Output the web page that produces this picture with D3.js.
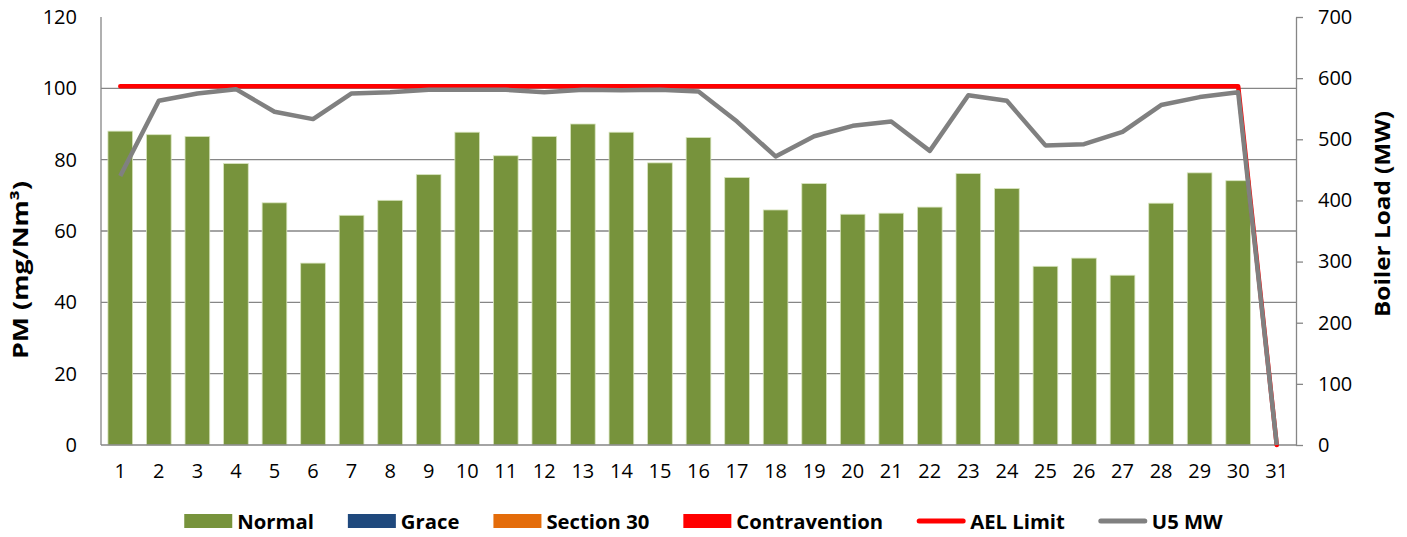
<!DOCTYPE html>
<html>
<head>
<meta charset="utf-8">
<script src="https://d3js.org/d3.v7.min.js"></script>
<style>
  body { margin: 0; background: #fff; }
  text { font-family: "Open Sans", sans-serif; fill: #000; }
</style>
</head>
<body>
<div id="chart"></div>
<script>
// days of the month
var days = [1, 2, 3, 4, 5, 6, 7, 8, 9, 10, 11, 12, 13, 14, 15, 16, 17, 18, 19, 20,
            21, 22, 23, 24, 25, 26, 27, 28, 29, 30, 31];
// PM (mg/Nm3) per status
var normal = [88, 87, 86.5, 78.9, 67.9, 51, 64.4, 68.6, 75.8, 87.7, 81.1, 86.5, 90, 87.7, 79.1,
              86.2, 75, 65.9, 73.3, 64.7, 65, 66.7, 76.1, 71.9, 50.1, 52.4, 47.6, 67.8, 76.3, 74.1, 0];
var grace = [0, 0, 0, 0, 0, 0, 0, 0, 0, 0, 0, 0, 0, 0, 0, 0, 0, 0, 0, 0, 0, 0, 0, 0, 0, 0, 0, 0, 0, 0, 0];
var section30 = [0, 0, 0, 0, 0, 0, 0, 0, 0, 0, 0, 0, 0, 0, 0, 0, 0, 0, 0, 0, 0, 0, 0, 0, 0, 0, 0, 0, 0, 0, 0];
var contravention = [0, 0, 0, 0, 0, 0, 0, 0, 0, 0, 0, 0, 0, 0, 0, 0, 0, 0, 0, 0, 0, 0, 0, 0, 0, 0, 0, 0, 0, 0, 0];
// emission limit (mg/Nm3)
var aelLimit = [100.6, 100.6, 100.6, 100.6, 100.6, 100.6, 100.6, 100.6, 100.6, 100.6, 100.6, 100.6, 100.6, 100.6, 100.6,
                100.6, 100.6, 100.6, 100.6, 100.6, 100.6, 100.6, 100.6, 100.6, 100.6, 100.6, 100.6, 100.6, 100.6, 100.6, 0];
// boiler load (MW)
var u5mw = [440, 563, 575, 582, 545, 533, 575, 577, 581, 581, 581, 577, 581, 580, 581,
            578, 529, 472, 505, 522, 529, 481, 572, 563, 490, 492, 512, 556, 569, 577, 0];
var leftTicks = [0, 20, 40, 60, 80, 100, 120];
var rightTicks = [0, 100, 200, 300, 400, 500, 600, 700];

var W = 1407, H = 537;
var plotLeft = 101, plotRight = 1296, plotTop = 17, plotBottom = 445;
var gridColor = '#868686';

var svg = d3.select('#chart').append('svg')
    .attr('width', W)
    .attr('height', H);

var x = d3.scaleBand().domain(days).range([plotLeft, plotRight]).paddingInner(0.36).paddingOuter(0.18);
var yL = d3.scaleLinear().domain([0, 120]).range([plotBottom, plotTop]);
var yR = d3.scaleLinear().domain([0, 700]).range([plotBottom, plotTop]);

// gridlines
svg.append('g').selectAll('line')
    .data(leftTicks.filter(function (t) { return t > 0 && t < 120; }))
    .join('line')
    .attr('x1', plotLeft).attr('x2', plotRight)
    .attr('y1', function (d) { return yL(d); })
    .attr('y2', function (d) { return yL(d); })
    .attr('stroke', gridColor)
    .attr('stroke-width', 1.3);

// stacked bars
var series = [
    { name: 'Normal', values: normal, color: '#77933C' },
    { name: 'Grace', values: grace, color: '#1F497D' },
    { name: 'Section 30', values: section30, color: '#E46C0A' },
    { name: 'Contravention', values: contravention, color: '#FF0000' }
];
var table = days.map(function (d, i) {
    var row = { day: d };
    series.forEach(function (s) { row[s.name] = s.values[i]; });
    return row;
});
var stack = d3.stack().keys(series.map(function (s) { return s.name; }))(table);

svg.append('g').selectAll('g')
    .data(stack)
    .join('g')
    .attr('fill', function (d, i) { return series[i].color; })
    .selectAll('rect')
    .data(function (d) { return d.filter(function (p) { return p[1] - p[0] > 0; }); })
    .join('rect')
    .attr('x', function (d) { return x(d.data.day); })
    .attr('width', x.bandwidth())
    .attr('y', function (d) { return yL(d[1]); })
    .attr('height', function (d) { return yL(d[0]) - yL(d[1]); })
    .attr('stroke', '#d7e4bd')
    .attr('stroke-width', 0.8);

// axes
var axL = svg.append('g')
    .attr('transform', 'translate(' + plotLeft + ',0)')
    .call(d3.axisLeft(yL).tickValues(leftTicks).tickSize(0).tickPadding(24));
var axR = svg.append('g')
    .attr('transform', 'translate(' + plotRight + ',0)')
    .call(d3.axisRight(yR).tickValues(rightTicks).tickSize(7).tickSizeOuter(0).tickPadding(15));
var axB = svg.append('g')
    .attr('transform', 'translate(0,' + plotBottom + ')')
    .call(d3.axisBottom(x).tickSize(0).tickPadding(19));

[axL, axR, axB].forEach(function (a) {
    a.select('.domain').attr('stroke', gridColor).attr('stroke-width', 1.3);
    a.selectAll('.tick line').attr('stroke', gridColor).attr('stroke-width', 1.3);
    a.selectAll('text')
        .attr('font-size', 20)
        .attr('font-family', '"Open Sans", sans-serif')
        .attr('fill', '#000');
});
axL.select('.domain').attr('d', 'M0,' + plotTop + 'V' + plotBottom);
axB.select('.domain').attr('d', 'M' + plotLeft + ',0H' + plotRight);

// lines
var cx = function (d, i) { return x(days[i]) + x.bandwidth() / 2; };
svg.append('path')
    .datum(aelLimit)
    .attr('fill', 'none')
    .attr('stroke', '#FF0000')
    .attr('stroke-width', 4.5)
    .attr('stroke-linejoin', 'round')
    .attr('stroke-linecap', 'round')
    .attr('d', d3.line().x(cx).y(function (d) { return yL(d); }));
svg.append('path')
    .datum(u5mw)
    .attr('fill', 'none')
    .attr('stroke', '#808080')
    .attr('stroke-width', 4.5)
    .attr('stroke-linejoin', 'round')
    .attr('d', d3.line().x(cx).y(function (d) { return yR(d); }));

// axis titles
svg.append('text')
    .attr('transform', 'translate(20,270) rotate(-90)')
    .attr('text-anchor', 'middle')
    .attr('dominant-baseline', 'central')
    .attr('font-size', 21)
    .attr('font-weight', 'bold')
    .attr('textLength', 178)
    .attr('lengthAdjust', 'spacingAndGlyphs')
    .text('PM (mg/Nm³)');
svg.append('text')
    .attr('transform', 'translate(1382,214) rotate(-90)')
    .attr('text-anchor', 'middle')
    .attr('dominant-baseline', 'central')
    .attr('font-size', 21)
    .attr('font-weight', 'bold')
    .attr('textLength', 206)
    .attr('lengthAdjust', 'spacingAndGlyphs')
    .text('Boiler Load (MW)');

// legend
var legendItems = series.map(function (s) { return { name: s.name, color: s.color, kind: 'rect' }; })
    .concat([{ name: 'AEL Limit', color: '#FF0000', kind: 'line' },
             { name: 'U5 MW', color: '#808080', kind: 'line' }]);
var legend = svg.append('g');
var lx = 0, ly = 521;
legendItems.forEach(function (it) {
    var g = legend.append('g').attr('transform', 'translate(' + lx + ',0)');
    if (it.kind === 'rect') {
        g.append('rect').attr('x', 0).attr('y', ly - 7).attr('width', 48).attr('height', 14).attr('fill', it.color);
    } else {
        g.append('line').attr('x1', 2).attr('x2', 46).attr('y1', ly).attr('y2', ly)
            .attr('stroke', it.color).attr('stroke-width', 5).attr('stroke-linecap', 'round');
    }
    var t = g.append('text')
        .attr('x', 53).attr('y', ly)
        .attr('dominant-baseline', 'central')
        .attr('font-size', 20.3)
        .attr('font-weight', 'bold')
        .text(it.name);
    lx += 53 + t.node().getComputedTextLength() + 34;
});
var legendWidth = lx - 34;
legend.attr('transform', 'translate(' + (W / 2 - legendWidth / 2) + ',0)');
</script>
</body>
</html>
